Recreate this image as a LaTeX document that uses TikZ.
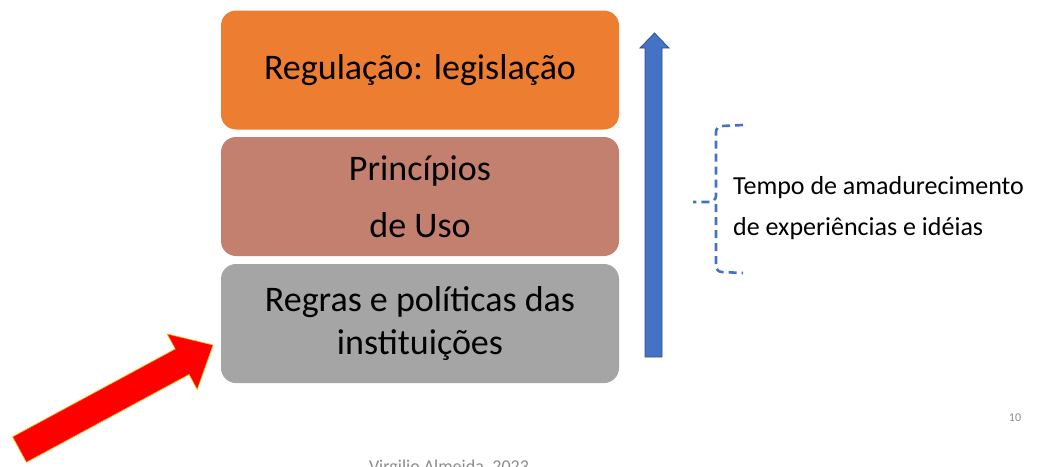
\documentclass[tikz,border=0pt]{standalone}
\usepackage{fontspec}
\setmainfont{Carlito}
\definecolor{cOrange}{HTML}{ED7D31}
\definecolor{cRose}{HTML}{C4806E}
\definecolor{cGray}{HTML}{A5A5A5}
\definecolor{cBlue}{HTML}{4472C4}
\definecolor{cBlueDark}{HTML}{2F528F}
\definecolor{cRed}{HTML}{FF0000}
\definecolor{cFoot}{HTML}{8C8C8C}
\begin{document}
\begin{tikzpicture}[x=1pt,y=-1pt,
  layer/.style={rounded corners=15pt, minimum width=398pt, minimum height=119pt, inner sep=0pt, align=center, font=\fontsize{36}{43}\selectfont, text=black},
  sidetext/.style={align=left, anchor=west, font=\fontsize{26}{41}\selectfont, inner sep=0pt},
  foot/.style={text=cFoot, inner sep=0pt}]
\useasboundingbox (0,0) rectangle (1040,466);
\clip (0,0) rectangle (1040,466);
\fill[white] (0,0) rectangle (1040,466);
% layers
\node[layer, fill=cOrange] (reg) at (420,70) {Regulação: legislação};
\node[layer, fill=cRose, font=\fontsize{36}{57}\selectfont] (prin) at (420,196.5) {Princípios\\de Uso};
\node[layer, fill=cGray] (regras) at (420,323.5) {Regras e políticas das\\instituições};
% blue arrow
\fill[cBlue, draw=cBlueDark, line width=0.8pt] (645,357) -- (645,48) -- (640,48) -- (654.5,33) -- (669,48) -- (662,48) -- (662,357) -- cycle;
% dashed brace
\coordinate (bt) at (743,125);
\coordinate (bb) at (743,273);
\coordinate (bm) at (693,202);
\draw[cBlue, line width=2.6pt, dash pattern=on 8pt off 5pt] (bt) -- (722,126) to[out=180,in=90] (716,132) -- (716,196) to[out=-90,in=0] (708,202) -- (bm);
\draw[cBlue, line width=2.6pt, dash pattern=on 8pt off 5pt] (716,204) -- (716,266) to[out=-90,in=180] (722,272) -- (bb);
\node[sidetext] (tempo) at (733,208) {Tempo de amadurecimento\\de experiências e idéias};
% red arrow
\fill[cRed, draw=orange!60!yellow, line width=0.6pt] (26.4,462.2) -- (12.6,436.8) -- (175.3,349.0) -- (167.2,334.0) -- (213,345) -- (197.2,389.4) -- (189.1,374.4) -- cycle;
% footer
\node[foot, font=\fontsize{18}{18}\selectfont, anchor=base] (author) at (449,472) {Virgilio Almeida, 2023};
\node[foot, font=\fontsize{12}{12}\selectfont] (page) at (1015,418) {10};
\end{tikzpicture}
\end{document}
